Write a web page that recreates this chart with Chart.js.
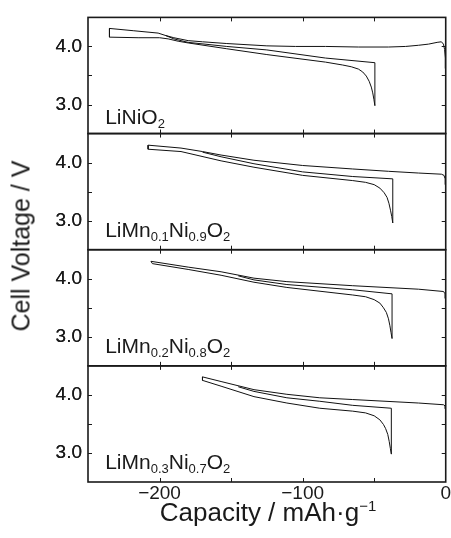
<!DOCTYPE html>
<html>
<head>
<meta charset="utf-8">
<script src="https://cdn.jsdelivr.net/npm/chart.js@4.4.1/dist/chart.umd.min.js"></script>
<style>
  html, body { margin: 0; padding: 0; background: #fff; }
  #wrap { position: relative; width: 451px; height: 538px; overflow: hidden; }
  canvas { position: absolute; left: 0; top: 0; }
  .ttl { position: absolute; font-family: 'Liberation Sans', Arial, sans-serif; font-size: 25px; line-height: 25px; color: #1a1a1a; white-space: nowrap; }
  .ttl sup { font-size: 15px; line-height: 0; vertical-align: 10px; }
</style>
</head>
<body>
<div id="wrap">
  <canvas id="c" width="451" height="538"></canvas>
  <div class="ttl" id="ytitle" style="left:21px; top:246px; transform: translate(-50%,-50%) rotate(-90deg);">Cell Voltage / V</div>
  <div class="ttl" id="xtitle" style="left:88px; width:360px; top:500px; text-align:center; font-size:26px;">Capacity / mAh·g<sup>−1</sup></div>
</div>
<script>
// ---- Data (capacity in mAh/g, voltage in V) ----
const panelLabels = ['LiNiO_{2}', 'LiMn_{0.1}Ni_{0.9}O_{2}', 'LiMn_{0.2}Ni_{0.8}O_{2}', 'LiMn_{0.3}Ni_{0.7}O_{2}'];

// LiNiO2
const p1Charge = [[0,3.62],[-0.3,3.8],[-0.8,3.95],[-1.6,4.04],[-3,4.08],[-6,4.07],[-12,4.04],[-19,4.02],[-28,4.0],[-40,3.99],[-61,3.99],[-84,4.0],[-105,4.0],[-125,4.01],[-153,4.05],[-170,4.08],[-180,4.10],[-190,4.15],[-196,4.19],[-201,4.23],[-218,4.27],[-235,4.31]];
const p1Discharge = [[-235,4.31],[-235,4.16],[-215,4.15],[-200,4.15],[-194,4.13],[-187,4.09],[-180,4.06],[-153,3.96],[-125,3.86],[-84,3.73],[-72,3.68],[-66,3.65],[-61,3.61],[-58,3.56],[-55.5,3.49],[-53.5,3.40],[-52,3.30],[-51,3.20],[-50.2,3.09],[-49.5,2.98]];
const p1Recharge = [[-49.5,2.98],[-49.5,3.72],[-84,3.80],[-125,3.94],[-153,4.00],[-180,4.07],[-190,4.13],[-196,4.19]];

// LiMn0.1Ni0.9O2
const p2Charge = [[0,3.62],[-0.4,3.72],[-1.2,3.78],[-3,3.80],[-19,3.82],[-40,3.85],[-65,3.89],[-100,3.95],[-134,4.04],[-157,4.13],[-170,4.19],[-185,4.25],[-208,4.30]];
const p2Discharge = [[-208,4.30],[-208,4.23],[-185,4.19],[-157,4.03],[-134,3.92],[-100,3.78],[-65,3.69],[-56,3.66],[-50,3.62],[-46,3.56],[-43,3.48],[-41,3.40],[-39.7,3.30],[-38.6,3.18],[-37.7,3.07],[-37,2.96]];
const p2Recharge = [[-37,2.96],[-37,3.72],[-65,3.76],[-100,3.84],[-134,3.98],[-157,4.10],[-170,4.18]];

// LiMn0.2Ni0.8O2
const p3Charge = [[0,3.66],[-0.5,3.74],[-1.5,3.78],[-19,3.82],[-65,3.88],[-111,3.95],[-134,4.01],[-157,4.12],[-180,4.20],[-206,4.30]];
const p3Discharge = [[-206,4.30],[-205,4.26],[-180,4.16],[-157,4.06],[-134,3.94],[-111,3.85],[-65,3.72],[-56,3.69],[-50,3.64],[-46,3.58],[-43.5,3.50],[-41.5,3.42],[-40,3.31],[-39,3.19],[-38.2,3.07],[-37.5,2.97]];
const p3Recharge = [[-37.5,2.97],[-37.5,3.74],[-65,3.81],[-111,3.90],[-134,3.98],[-145,4.05]];

// LiMn0.3Ni0.7O2
const p4Charge = [[0,3.76],[-0.5,3.81],[-1.5,3.83],[-19,3.86],[-65,3.92],[-88,3.95],[-111,4.01],[-134,4.09],[-157,4.23],[-170,4.31]];
const p4Discharge = [[-170,4.31],[-170,4.25],[-157,4.15],[-134,3.97],[-111,3.86],[-88,3.77],[-65,3.72],[-56,3.69],[-50,3.64],[-46,3.57],[-43.5,3.49],[-42,3.42],[-40.5,3.32],[-39.5,3.20],[-38.7,3.08],[-38,2.98]];
const p4Recharge = [[-38,2.98],[-38,3.77],[-65,3.82],[-88,3.89],[-111,3.95],[-134,4.06],[-145,4.14]];

const panels = [
  [p1Charge, p1Discharge, p1Recharge],
  [p2Charge, p2Discharge, p2Recharge],
  [p3Charge, p3Discharge, p3Recharge],
  [p4Charge, p4Discharge, p4Recharge]
];
const xTickLabels = [-200, -100, 0];
const yTickLabels = [3, 4];

// ---- Chart ----
const FONT = "'Liberation Sans', Arial, sans-serif";
const INK = '#1a1a1a';
const panelIds = ['y0', 'y1', 'y2', 'y3'];

const datasets = [];
panels.forEach((curves, i) => {
  curves.forEach(c => {
    datasets.push({
      data: c.map(p => ({ x: p[0], y: p[1] })),
      yAxisID: panelIds[i],
      showLine: true,
      borderColor: '#111',
      borderWidth: 1,
      pointRadius: 0,
      tension: 0,
      fill: false
    });
  });
});

const isLabel = (v, list) => list.some(t => Math.abs(t - v) < 1e-6);

const scales = {
  x: {
    type: 'linear', min: -250, max: 0,
    grid: { display: false, drawTicks: false },
    border: { display: false },
    ticks: {
      stepSize: 50, padding: 0, color: INK,
      font: { family: FONT, size: 19 },
      maxRotation: 0, autoSkip: false,
      callback: v => isLabel(v, xTickLabels) ? (v < 0 ? '\u2212' + Math.abs(v) : String(v)) : ''
    },
    afterFit: s => { s.height = 56; }
  }
};
// stacked axes are laid out bottom-up, so add them in reverse order
[...panelIds].reverse().forEach(id => {
  scales[id] = {
    type: 'linear', position: 'left', stack: 'panels', stackWeight: 1,
    min: 2.5, max: 4.5,
    grid: { display: false, drawTicks: false },
    border: { display: false },
    ticks: {
      stepSize: 0.5, padding: 6, color: INK, autoSkip: false, display: true,
      font: { family: FONT, size: 19 },
      callback: v => isLabel(v, yTickLabels) ? Number(v).toFixed(1) : ''
    },
    afterFit: s => { s.width = 88; }
  };
});

function drawLabel(ctx, text, x, y) {
  const parts = text.split(/(_\{[^}]*\})/).filter(Boolean);
  let cx = x;
  parts.forEach(p => {
    if (p.startsWith('_{')) {
      const t = p.slice(2, -1);
      ctx.font = '13px ' + FONT;
      ctx.fillText(t, cx, y + 4);
      cx += ctx.measureText(t).width;
    } else {
      ctx.font = '21px ' + FONT;
      ctx.fillText(p, cx, y);
      cx += ctx.measureText(p).width;
    }
  });
}

const framePlugin = {
  id: 'frame',
  afterDatasetsDraw(chart) {
    const ctx = chart.ctx, ca = chart.chartArea, xs = chart.scales.x;
    ctx.save();
    panelIds.forEach((id, i) => {
      const s = chart.scales[id];
      ctx.strokeStyle = INK;
      ctx.lineWidth = 1.6;
      ctx.strokeRect(ca.left, s.top, ca.right - ca.left, s.bottom - s.top);
      ctx.lineWidth = 1;
      ctx.beginPath();
      xs.ticks.forEach(t => {
        if (t.value <= xs.min || t.value >= xs.max) return;
        const px = Math.round(xs.getPixelForValue(t.value)) + 0.5;
        ctx.moveTo(px, s.top); ctx.lineTo(px, s.top + 4);
        ctx.moveTo(px, s.bottom); ctx.lineTo(px, s.bottom - 4);
      });
      s.ticks.forEach(t => {
        if (t.value <= s.min || t.value >= s.max) return;
        const py = Math.round(s.getPixelForValue(t.value)) + 0.5;
        ctx.moveTo(ca.left, py); ctx.lineTo(ca.left + 4, py);
        ctx.moveTo(ca.right, py); ctx.lineTo(ca.right - 4, py);
      });
      ctx.stroke();
      // y tick labels (4.0 / 3.0) drawn from the panel scale
      ctx.fillStyle = INK;
      ctx.font = '19px ' + FONT;
      ctx.textAlign = 'right';
      ctx.textBaseline = 'middle';
      yTickLabels.forEach(v => {
        ctx.fillText(v.toFixed(1), ca.left - 6, s.getPixelForValue(v));
      });
      ctx.textBaseline = 'alphabetic';
      ctx.textAlign = 'left';
      drawLabel(ctx, panelLabels[i], xs.getPixelForValue(-238), s.getPixelForValue(i === 0 ? 2.67 : 2.72));
    });
    ctx.restore();
  }
};

new Chart(document.getElementById('c'), {
  type: 'scatter',
  data: { datasets },
  options: {
    responsive: false,
    animation: false,
    devicePixelRatio: 1,
    layout: { padding: { top: 15, right: 3, left: 0, bottom: 0 } },
    plugins: { legend: { display: false }, tooltip: { enabled: false } },
    scales
  },
  plugins: [framePlugin]
});
</script>
</body>
</html>
